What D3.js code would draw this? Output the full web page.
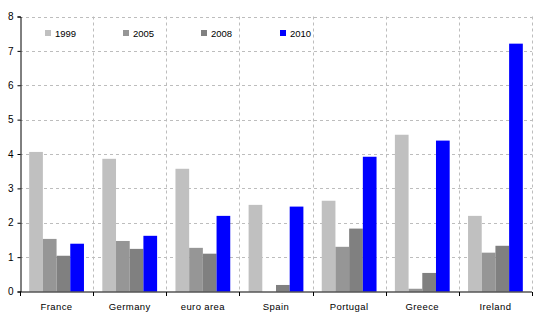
<!DOCTYPE html>
<html><head><meta charset="utf-8">
<script src="https://cdn.jsdelivr.net/npm/d3@7"></script>
<style>body{margin:0;background:#fff}svg{display:block;font-family:"Liberation Sans",Arial,sans-serif}</style>
</head><body><svg id="c" width="536" height="324"></svg>
<script>
const categories = ["France","Germany","euro area","Spain","Portugal","Greece","Ireland"];
const seriesNames = ["1999","2005","2008","2010"];
const v1999 = [4.06,3.86,3.57,2.52,2.64,4.56,2.20];
const v2005 = [1.53,1.47,1.27,0,1.30,0.08,1.13];
const v2008 = [1.04,1.24,1.10,0.19,1.83,0.54,1.33];
const v2010 = [1.39,1.62,2.20,2.47,3.92,4.39,7.21];
const yTicks = [0,1,2,3,4,5,6,7,8];
const colors = ["#c0c0c0","#969696","#808080","#0000ff"];
const series = [v1999,v2005,v2008,v2010];

const svg = d3.select("#c");
const L=20,R=532,T=16.5,B=291.5;
const x = d3.scaleBand().domain(categories).range([L,R]).paddingInner(0).paddingOuter(0);
const xs = d3.scaleBand().domain(seriesNames).range([0,x.bandwidth()]).paddingInner(0).paddingOuter(0.67);
const y = d3.scaleLinear().domain([0,8]).range([B,T]);

// gridlines
const g = svg.append("g");
g.selectAll(".hg").data(yTicks.filter(d=>d>0)).enter().append("line")
 .attr("x1",L).attr("x2",R).attr("y1",d=>Math.round(y(d))+0.5).attr("y2",d=>Math.round(y(d))+0.5)
 .attr("stroke","#bdbdbd").attr("stroke-dasharray","3,3");
const bounds = categories.map(c=>x(c)+x.bandwidth());
g.selectAll(".vg").data(bounds).enter().append("line")
 .attr("x1",d=>Math.round(d)+0.5).attr("x2",d=>Math.round(d)+0.5).attr("y1",T).attr("y2",B)
 .attr("stroke","#bdbdbd").attr("stroke-dasharray","3,3");

// bars
series.forEach((vals,si)=>{
  svg.append("g").selectAll("rect").data(vals).enter().append("rect")
   .attr("x",(d,i)=>x(categories[i])+xs(seriesNames[si]))
   .attr("width",xs.bandwidth())
   .attr("y",d=>y(d)).attr("height",d=>B-y(d))
   .attr("fill",colors[si]);
});

// axes
const ya = svg.append("g").attr("transform",`translate(${L+0.5},0)`)
 .call(d3.axisLeft(y).tickValues(yTicks).tickSize(3).tickPadding(4).tickFormat(d3.format("d")));
ya.select(".domain").attr("stroke","#000");
ya.selectAll("text").attr("font-size","10px").attr("fill","#000").attr("font-family","Liberation Sans, Arial");
const xa = svg.append("g").attr("transform",`translate(0,${B+0.5})`)
 .call(d3.axisBottom(x).tickSize(0).tickPadding(11));
xa.select(".domain").attr("stroke","#000").attr("d",`M${L},0H${R}`);
xa.selectAll("text").attr("font-size","9.5px").attr("fill","#000").attr("font-family","Liberation Sans, Arial").attr("letter-spacing","0.4px");
xa.selectAll(".bt").data([L].concat(bounds)).enter().append("line")
 .attr("x1",d=>Math.round(d)+0.5).attr("x2",d=>Math.round(d)+0.5).attr("y1",0).attr("y2",4).attr("stroke","#000");

// legend
const legX=[45,123,201,280];
const lg = svg.append("g");
seriesNames.forEach((s,i)=>{
  lg.append("rect").attr("x",legX[i]).attr("y",30).attr("width",6).attr("height",6).attr("fill",colors[i]);
  lg.append("text").attr("x",legX[i]+10).attr("y",36.5).attr("font-size","9.5px").text(s);
});
</script></body></html>
